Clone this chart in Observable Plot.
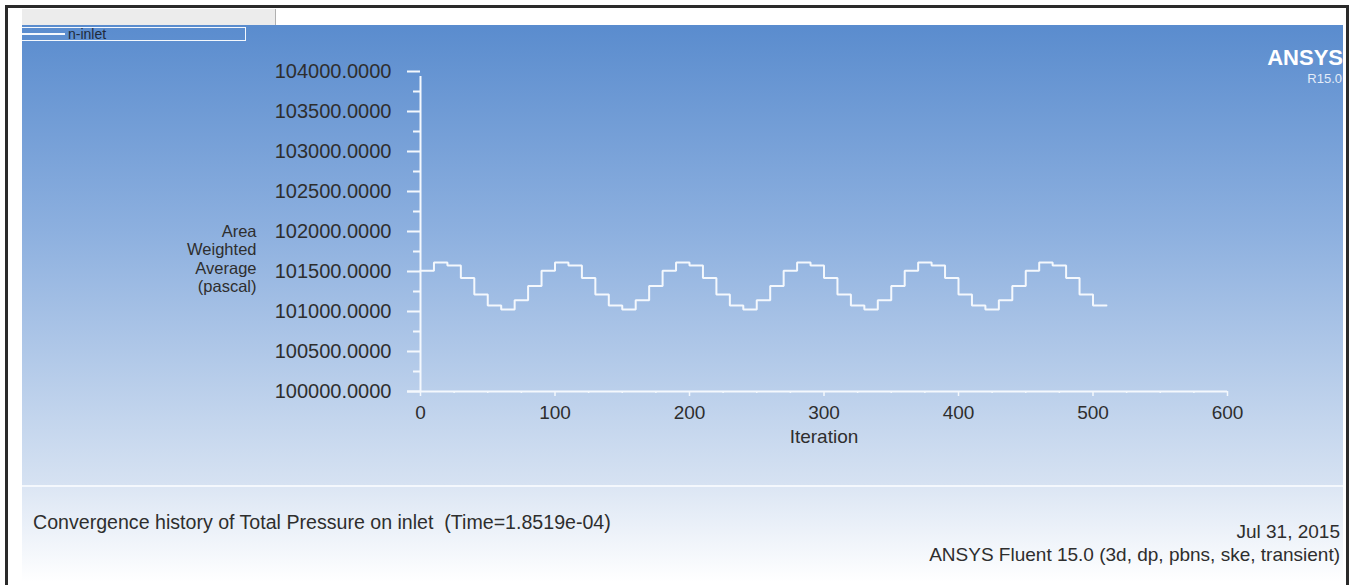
<!DOCTYPE html>
<html>
<head>
<meta charset="utf-8">
<script src="https://cdn.jsdelivr.net/npm/d3@7"></script>
<script src="https://cdn.jsdelivr.net/npm/@observablehq/plot@0.6"></script>
<style>
  html, body { margin: 0; padding: 0; background: #fff; }
  body { width: 1351px; height: 585px; position: relative; overflow: hidden;
         font-family: "Liberation Sans", Arial, sans-serif; color: #2e2e2e; }
  .frame { position: absolute; left: 5px; top: 5px; width: 1338px; height: 640px;
           border: 3px solid #2a2a2a; box-sizing: content-box; }
  .tab { position: absolute; left: 22px; top: 9px; width: 253px; height: 16px;
         background: #ececec; border-right: 1px solid #b0b0b0; }
  .panel { position: absolute; left: 22px; top: 25px; width: 1321px; height: 460px;
           background: linear-gradient(to bottom, #5a8cce 0%, #8db0df 45%, #d6e2f2 100%); }
  .divider { position: absolute; left: 22px; top: 485px; width: 1321px; height: 2px; background: #f4f8fd; }
  .lower { position: absolute; left: 22px; top: 487px; width: 1321px; height: 95px;
           background: linear-gradient(to bottom, #dce6f4 0%, #ffffff 100%); }
  #chart { position: absolute; left: 22px; top: 27px; }
  .legend { position: absolute; left: 22px; top: 27px; width: 223px; height: 12px;
            border: 1.5px solid #f4f8fd; border-left: none; }
  .legend .sample { position: absolute; left: 0; top: 5px; width: 43px; height: 1.5px; background: #f4f8fd; }
  .legend .name { position: absolute; left: 46px; top: -1px; font-size: 14px; line-height: 14px; color: #1f2a3a; white-space: nowrap; }
  .txt { position: absolute; line-height: 19px; white-space: pre; color: #2e2e2e; }
  .logo { position: absolute; right: 8px; top: 48px; font-size: 22px; line-height: 20px; font-weight: bold; color: #ffffff; }
  .rel { position: absolute; right: 9px; top: 72px; font-size: 13px; line-height: 13px; color: #e4ecf8; }
</style>
</head>
<body>
<div class="frame"></div>
<div class="tab"></div>
<div class="panel"></div>
<div class="divider"></div>
<div class="lower"></div>
<div id="chart"></div>
<div class="legend"><div class="sample"></div><div class="name" id="legendName"></div></div>
<div class="logo" id="logo"></div>
<div class="rel" id="rel"></div>
<div class="txt" id="caption" style="left:33px; top:513px; font-size:19.6px;"></div>
<div class="txt" id="date" style="right:11px; top:521.5px; font-size:19px;"></div>
<div class="txt" id="solver" style="right:11px; top:545px; font-size:19px;"></div>
<script>
// ---- data ----
const iterations = [0, 10, 20, 30, 40, 50, 60, 70, 80, 90,
  100, 110, 120, 130, 140, 150, 160, 170, 180, 190,
  200, 210, 220, 230, 240, 250, 260, 270, 280, 290,
  300, 310, 320, 330, 340, 350, 360, 370, 380, 390,
  400, 410, 420, 430, 440, 450, 460, 470, 480, 490,
  500, 510];
const pressure = [101510, 101612, 101575, 101420, 101212, 101075, 101025, 101140, 101320,
  101510, 101612, 101575, 101420, 101212, 101075, 101025, 101140, 101320,
  101510, 101612, 101575, 101420, 101212, 101075, 101025, 101140, 101320,
  101510, 101612, 101575, 101420, 101212, 101075, 101025, 101140, 101320,
  101510, 101612, 101575, 101420, 101212, 101075, 101025, 101140, 101320,
  101510, 101612, 101575, 101420, 101212, 101075,
  101075];

const yTicks = [100000, 100500, 101000, 101500, 102000, 102500, 103000, 103500, 104000];
const yMinorTicks = [100250, 100750, 101250, 101750, 102250, 102750, 103250, 103750];
const xTicks = [0, 100, 200, 300, 400, 500, 600];
const xMinorTicks = [25, 50, 75, 125, 150, 175, 225, 250, 275, 325, 350, 375, 425, 450, 475, 525, 550, 575];

const yTitle = "Area\nWeighted\nAverage\n(pascal)";
const xTitle = "Iteration";
const seriesName = "n-inlet";
const captionText = "Convergence history of Total Pressure on inlet  (Time=1.8519e-04)";
const dateText = "Jul 31, 2015";
const solverText = "ANSYS Fluent 15.0 (3d, dp, pbns, ske, transient)";
const logoText = "ANSYS";
const releaseText = "R15.0";

const table = iterations.map((it, i) => ({iteration: it, pressure: pressure[i]}));

const axisColor = "#f4f8fd";
const textColor = "#2e2e2e";

const chart = Plot.plot({
  width: 1321,
  height: 458,
  marginLeft: 398,
  marginRight: 116,
  marginTop: 44,
  marginBottom: 94,
  style: {background: "transparent", fontFamily: "'Liberation Sans', Arial, sans-serif", fontSize: "19px", overflow: "visible"},
  x: {domain: [0, 600], axis: null},
  y: {domain: [100000, 104000], axis: null},
  marks: [
    // axis lines
    Plot.ruleX([0], {y1: 100000, y2: 104000, stroke: axisColor, strokeWidth: 2, insetBottom: -5}),
    Plot.ruleY([100000], {x1: 0, x2: 600, stroke: axisColor, strokeWidth: 2, insetLeft: -13}),
    // y axis
    Plot.axisY(yTicks, {anchor: "left", label: null, tickSize: 13, tickPadding: 16, stroke: axisColor, strokeWidth: 2,
      fill: textColor, fontSize: 20, tickFormat: d => d.toFixed(4)}),
    Plot.axisY(yMinorTicks, {anchor: "left", label: null, tickSize: 7, stroke: axisColor, strokeWidth: 2, fill: "none", tickFormat: () => ""}),
    // x axis
    Plot.axisX(xTicks, {anchor: "bottom", label: null, tickSize: 5, tickPadding: 9, stroke: axisColor, strokeWidth: 1.5,
      fill: textColor, fontSize: 19, tickFormat: d => String(d)}),
    Plot.axisX(xMinorTicks, {anchor: "bottom", label: null, tickSize: 2, stroke: axisColor, strokeWidth: 1.5, fill: "none", tickFormat: () => ""}),
    // titles
    Plot.text([yTitle], {frameAnchor: "left", dx: -164, dy: 27, textAnchor: "end", lineHeight: 1.12, fill: textColor, fontSize: 16.5}),
    Plot.text([xTitle], {frameAnchor: "bottom", dy: 51, fill: textColor, fontSize: 19}),
    // series
    Plot.line(table, {x: "iteration", y: "pressure", curve: "step-after", stroke: axisColor, strokeWidth: 2, strokeLinejoin: "miter"})
  ]
});
document.getElementById("chart").appendChild(chart);

document.getElementById("legendName").textContent = seriesName;
document.getElementById("caption").textContent = captionText;
document.getElementById("date").textContent = dateText;
document.getElementById("solver").textContent = solverText;
document.getElementById("logo").textContent = logoText;
document.getElementById("rel").textContent = releaseText;
</script>
</body>
</html>
